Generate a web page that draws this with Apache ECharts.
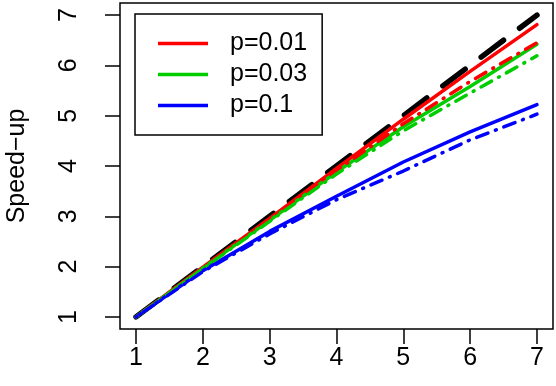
<!DOCTYPE html>
<html>
<head>
<meta charset="utf-8">
<script src="https://cdn.jsdelivr.net/npm/echarts@6/dist/echarts.min.js"></script>
<style>
html, body { margin: 0; padding: 0; background: #fff; }
#chart { width: 556px; height: 386px; }
</style>
</head>
<body>
<div id="chart"></div>
<script>
// processors
const xs = [1, 2, 3, 4, 5, 6, 7]
const ticks = [1, 2, 3, 4, 5, 6, 7]
const ideal = [1, 2, 3, 4, 5, 6, 7]
const p001 = [1, 1.99, 2.96, 3.95, 4.93, 5.88, 6.81]
const p001b = [1, 1.98, 2.95, 3.91, 4.84, 5.68, 6.45]
const p003 = [1, 1.97, 2.92, 3.88, 4.78, 5.58, 6.42]
const p003b = [1, 1.96, 2.9, 3.84, 4.7, 5.45, 6.19]
const p01 = [1, 1.92, 2.7, 3.4, 4.08, 4.68, 5.22]
const p01b = [1, 1.9, 2.65, 3.33, 3.9, 4.52, 5.03]

const font = 'Liberation Sans, Arial, sans-serif'
const pairs = ys => xs.map((x, i) => [x, ys[i]])

function line(name, ys, color, width, dash) {
  return {
    name: name,
    type: 'line',
    data: pairs(ys),
    symbol: 'none',
    silent: true,
    lineStyle: { color: color, width: width, type: dash || 'solid', cap: 'round' },
    itemStyle: { color: color }
  }
}

const myChart = echarts.init(document.getElementById('chart'))
myChart.setOption({
  animation: false,
  textStyle: { fontFamily: font },
  grid: {
    left: 120, right: 3, top: 3, bottom: 57,
    containLabel: false, outerBoundsMode: 'none',
    show: true, borderColor: '#000', borderWidth: 1.5
  },
  legend: {
    data: ['p=0.01', 'p=0.03', 'p=0.1'],
    orient: 'vertical',
    left: 135, top: 14,
    padding: [17, 15, 17, 23],
    borderColor: '#000', borderWidth: 1.5,
    icon: 'rect',
    itemWidth: 50, itemHeight: 3.5, itemGap: 6,
    textStyle: { fontSize: 25, lineHeight: 25, color: '#000', padding: [0, 0, 0, 17], fontFamily: font }
  },
  xAxis: {
    type: 'value', min: 0.76, max: 7.24,
    axisLine: { show: false },
    splitLine: { show: false },
    axisTick: { show: true, length: 15, customValues: ticks, lineStyle: { color: '#000', width: 1.5 } },
    axisLabel: { customValues: ticks, color: '#000', fontSize: 25, margin: 17, fontFamily: font }
  },
  yAxis: {
    type: 'value', min: 0.76, max: 7.24,
    name: 'Speed\u2212up',
    nameLocation: 'middle', nameRotate: 90, nameGap: 90,
    nameTextStyle: { fontSize: 25, color: '#000', fontFamily: font },
    axisLine: { show: false },
    splitLine: { show: false },
    axisTick: { show: true, length: 15, customValues: ticks, lineStyle: { color: '#000', width: 1.5 } },
    axisLabel: { customValues: ticks, color: '#000', fontSize: 25, rotate: 90, margin: 38, fontFamily: font }
  },
  series: [
    line('ideal', ideal, '#000', 5.5, [28, 20]),
    line('p=0.01', p001, '#ff0000', 3.5),
    line('p=0.03', p003, '#00cd00', 3.5),
    line('p=0.1', p01, '#0000ff', 3.5),
    line('p=0.01 b', p001b, '#ff0000', 3.5, [1, 8, 12, 8]),
    line('p=0.03 b', p003b, '#00cd00', 3.5, [1, 8, 12, 8]),
    line('p=0.1 b', p01b, '#0000ff', 3.5, [1, 8, 12, 8])
  ]
})
window.addEventListener('resize', function() {
  myChart.resize()
})
</script>
</body>
</html>
